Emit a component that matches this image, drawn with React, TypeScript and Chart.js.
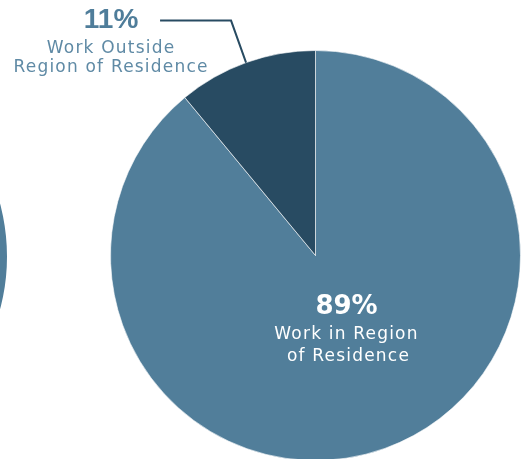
import React, { useEffect, useRef } from "react";
import { Chart, registerables } from "chart.js";

Chart.register(...registerables);

const categories = ["Work in Region of Residence", "Work Outside Region of Residence"];
const shares = [89, 11];
const sliceColors = ["#517E9A", "#284B62"];
const insideLabel = ["89%", "Work in Region", "of Residence"];
const outsideLabel = ["11%", "Work Outside", "Region of Residence"];
const neighbourShares = [100];

const FONT = "'DejaVu Sans', sans-serif";
const NUMFONT = "'Liberation Sans', sans-serif";

const labelPlugin = {
  id: "labels",
  afterDatasetsDraw(chart: any) {
    const ctx = chart.ctx;
    const meta = chart.getDatasetMeta(0);
    const big = meta.data[0];
    const small = meta.data[1];
    ctx.save();
    ctx.textAlign = "center";
    ctx.textBaseline = "alphabetic";
    const cx = big.x;
    const cy = big.y;
    ctx.fillStyle = "#ffffff";
    ctx.letterSpacing = "0px";
    ctx.font = `bold 26px ${FONT}`;
    ctx.fillText(insideLabel[0], cx + 31, cy + 58);
    ctx.font = `17px ${FONT}`;
    ctx.letterSpacing = "1.2px";
    ctx.fillText(insideLabel[1], cx + 31, cy + 83);
    ctx.fillText(insideLabel[2], cx + 33, cy + 105);

    const mid = (small.startAngle + small.endAngle) / 2;
    const px = small.x + Math.cos(mid) * small.outerRadius;
    const py = small.y + Math.sin(mid) * small.outerRadius;
    ctx.strokeStyle = "#284B62";
    ctx.lineWidth = 2;
    ctx.beginPath();
    ctx.moveTo(px, py);
    ctx.lineTo(px - 15, py - 42);
    ctx.lineTo(px - 86, py - 42);
    ctx.stroke();

    const lx = px - 135;
    ctx.fillStyle = "#4F7D9A";
    ctx.letterSpacing = "0px";
    ctx.font = `bold 28px ${NUMFONT}`;
    ctx.fillText(outsideLabel[0], lx, py - 35);
    ctx.fillStyle = "#5F8AA5";
    ctx.letterSpacing = "1.2px";
    ctx.font = `17px ${FONT}`;
    ctx.fillText(outsideLabel[1], lx, py - 10);
    ctx.fillText(outsideLabel[2], lx, py + 9);
    ctx.restore();
  },
};

export default function App() {
  const mainRef = useRef<HTMLCanvasElement | null>(null);
  const sideRef = useRef<HTMLCanvasElement | null>(null);

  useEffect(() => {
    const main = new Chart(mainRef.current!, {
      type: "pie",
      data: {
        labels: categories,
        datasets: [
          {
            data: shares,
            backgroundColor: sliceColors,
            borderColor: "rgba(255,255,255,0.6)",
            borderWidth: 1,
          },
        ],
      },
      options: {
        responsive: false,
        animation: false,
        layout: { padding: { top: 50, bottom: 9, left: 110, right: 10 } },
        plugins: { legend: { display: false }, tooltip: { enabled: false } },
      },
      plugins: [labelPlugin],
    });
    const side = new Chart(sideRef.current!, {
      type: "pie",
      data: {
        labels: ["Other"],
        datasets: [{ data: neighbourShares, backgroundColor: ["#517E9A"], borderWidth: 0 }],
      },
      options: {
        responsive: false,
        animation: false,
        plugins: { legend: { display: false }, tooltip: { enabled: false } },
      },
    });
    return () => {
      main.destroy();
      side.destroy();
    };
  }, []);

  return (
    <div
      style={{
        position: "fixed",
        left: 0,
        top: 0,
        width: 531,
        height: 459,
        overflow: "hidden",
        background: "#ffffff",
      }}
    >
      <canvas
        ref={sideRef}
        width={411}
        height={411}
        style={{ position: "absolute", left: -404, top: 51 }}
      />
      <canvas
        ref={mainRef}
        width={531}
        height={470}
        style={{ position: "absolute", left: 0, top: 0 }}
      />
    </div>
  );
}
